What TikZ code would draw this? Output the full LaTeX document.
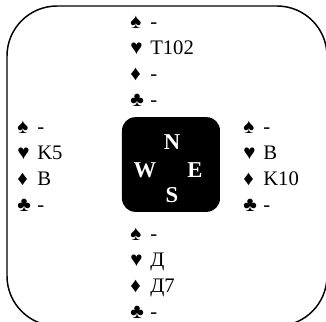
\documentclass[tikz,border=0pt]{standalone}
\usepackage{fontspec}
\setmainfont{Liberation Serif}
\usetikzlibrary{positioning}

\begin{document}
\begin{tikzpicture}[x=0.75pt, y=-0.75pt,
	card/.style = {anchor=base west, inner sep=0pt, font=\fontsize{15.5}{15.5}\selectfont},
	board/.style = {fill=black, rounded corners=10pt, minimum width=73.5pt, minimum height=71pt, inner sep=0pt},
	dir/.style = {text=white, inner sep=0pt, font=\fontsize{17}{17}\selectfont\bfseries}]
	
	\useasboundingbox (0,0) rectangle (326,322);
	\draw [line width=1.1pt, rounded corners=37.5pt] (7,6) rectangle (327,326);
	
	% table
	\node [board] (board) at (171,164.5) {};
	\node [dir] (N) at (172,142) {N};
	\node [dir] (W) at (145,170) {W};
	\node [dir] (E) at (195,170) {E};
	\node [dir] (S) at (172,195) {S};
	
	% hands
	\foreach \s/\c [count=\i] in {♠/-, ♥/T102, ♦/-, ♣/-}
		\node [card] (north\i) at (130,2+26*\i) {\makebox[15pt][l]{\s}\c};
	\foreach \s/\c [count=\i] in {♠/-, ♥/K5, ♦/B, ♣/-}
		\node [card] (west\i) at (17,107+26*\i) {\makebox[15pt][l]{\s}\c};
	\foreach \s/\c [count=\i] in {♠/-, ♥/B, ♦/K10, ♣/-}
		\node [card] (east\i) at (243,107+26*\i) {\makebox[15pt][l]{\s}\c};
	\foreach \s/\c [count=\i] in {♠/-, ♥/Д, ♦/Д7, ♣/-}
		\node [card] (south\i) at (130,214+26*\i) {\makebox[15pt][l]{\s}\c};
	
\end{tikzpicture}
\end{document}
